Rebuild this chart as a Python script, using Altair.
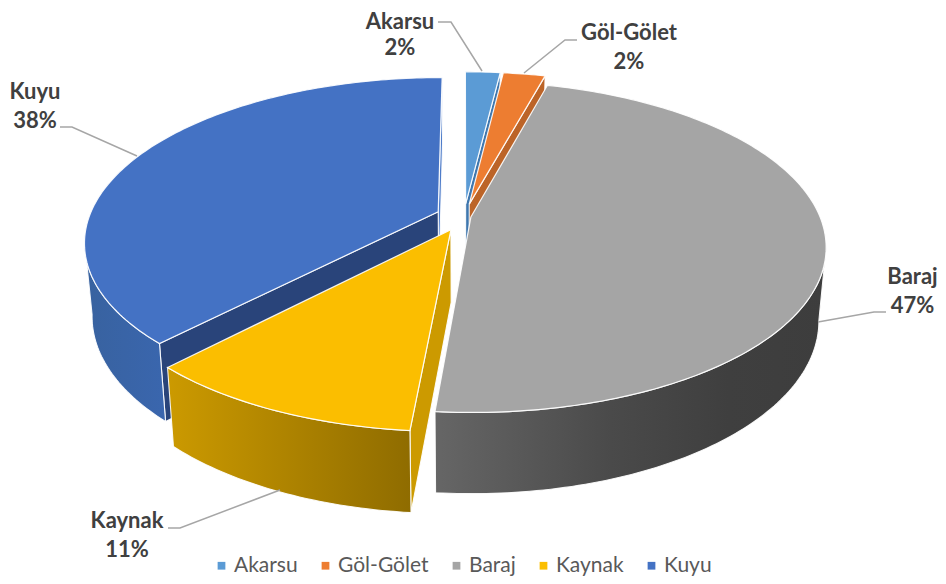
import math
import altair as alt

# ---- values ----
names = ["Akarsu", "Göl-Gölet", "Baraj", "Kaynak", "Kuyu"]
shares = [1.9, 2.3, 47.2, 10.7, 37.9]
top_colors = ["#5B9BD5", "#ED7D31", "#A5A5A5", "#FBBE00", "#4472C4"]
cut_colors = ["#3F77AE", "#BC6428", None, "#CC9A00", "#29447A"]
explode = [0.08, 0.08, 0.02, 0.09, 0.08]

label_x = [400, 629, 912.5, 127, 35]
name_y = [22, 33, 277, 521, 92]
share_y = [48, 62, 306, 550, 121]
leader_x = [[438, 451, 482], [577, 565, 524], [886, 874, 818], [168, 180, 280], [60, 72, 137]]
leader_y = [[22, 22, 71], [40, 40, 73], [312, 312, 322], [528, 528, 490], [127, 127, 156]]

# ---- 3-D view of the pie ----
CX, CY, R, K, P = 464.0, 216.5, 349.0, 160.0, 0.18
BX, BA, BB = 0.98, 288.5, 1.047
OX, OY = 8, 8  # page margin
W, H = 930, 568


def top(theta, r, i):
    mid = math.radians(mids[i])
    t = math.radians(theta)
    U = r * math.sin(t) + explode[i] * math.sin(mid)
    V = r * math.cos(t) + explode[i] * math.cos(mid)
    s = 1 / (1 + P * V)
    return [CX + R * U * s, CY - K * V * s]


def bottom(theta, r, i):
    x, y = top(theta, r, i)
    return [CX + BX * (x - CX), BA + BB * (y - CY)]


edges = [0.0]
for v in shares:
    edges.append(edges[-1] + v * 3.6)
mids = [(edges[i] + edges[i + 1]) / 2 for i in range(5)]


def arc(a, b, i, fn):
    n = max(2, int(abs(b - a)) + 1)
    return [fn(a + (b - a) * j / n, 1, i) for j in range(n + 1)]


def feature(points, name=""):
    ring = points + [points[0]]
    return {"type": "Feature", "properties": {"name": name},
            "geometry": {"type": "Polygon", "coordinates": [ring]}}


def cut(theta, i):
    return feature([top(theta, 0, i), top(theta, 1, i), bottom(theta, 1, i), bottom(theta, 0, i)])


def wall(a, b, i):
    return feature(arc(a, b, i, top) + arc(b, a, i, bottom))


def gradient(stops):
    return {"gradient": "linear", "x1": 0, "x2": 1, "y1": 0, "y2": 0,
            "stops": [{"offset": o, "color": c} for o, c in stops]}


def face(feat, fill):
    return alt.Chart(alt.Data(values=[feat])).mark_geoshape(
        fill=fill, stroke="white", strokeWidth=1.1, strokeOpacity=0.9
    ).project(type="identity", scale=1, translate=[-OX, -OY])


TURN_R = 100.4
TURN_L = 259.6
layers = [
    face(cut(edges[5], 4), "#4E7CC9"),
    face(cut(edges[4], 4), cut_colors[4]),
    face(wall(edges[4], TURN_L, 4), gradient([(0, "#38629F"), (1, "#3A66AE")])),
    face(cut(edges[1], 0), cut_colors[0]),
    face(cut(edges[2], 1), cut_colors[1]),
    face(wall(TURN_R, edges[3], 2), gradient([(0, "#666666"), (0.45, "#4A4A4A"), (0.75, "#3F3F3F"), (1, "#3D3D3D")])),
    face(cut(edges[3], 3), cut_colors[3]),
    face(wall(edges[3], edges[4], 3), gradient([(0, "#CC9A00"), (1, "#8F6C00")])),
]

# top faces, back to front, carrying the legend
order = [4, 0, 1, 2, 3]
tops = [feature([top(edges[i], 0, i)] + arc(edges[i], edges[i + 1], i, top), names[i]) for i in order]
tops_layer = alt.Chart(alt.Data(values=tops)).mark_geoshape(
    stroke="white", strokeWidth=1.2, strokeOpacity=0.9
).encode(
    color=alt.Color(
        "properties.name:N",
        scale=alt.Scale(domain=names, range=top_colors),
        legend=alt.Legend(
            title=None, orient="none", legendX=211 - OX, legendY=555 - OY,
            direction="horizontal", columns=5, symbolType="square", symbolSize=60,
            symbolStrokeWidth=0, labelFont="Lato", labelFontSize=21, labelColor="#595959",
            labelLimit=200, columnPadding=17, labelOffset=2,
        ),
    )
).project(type="identity", scale=1, translate=[-OX, -OY])
layers.append(tops_layer)

xs = alt.Scale(domain=[OX, OX + W], nice=False, zero=False)
ys = alt.Scale(domain=[OY + H, OY], nice=False, zero=False)

leader_rows = []
for i, nm in enumerate(names):
    for j in range(3):
        leader_rows.append({"name": nm, "step": j, "x": leader_x[i][j], "y": leader_y[i][j]})
leaders = alt.Chart(alt.Data(values=leader_rows)).mark_line(
    color="#A6A6A6", strokeWidth=1.5
).encode(
    x=alt.X("x:Q", scale=xs, axis=None),
    y=alt.Y("y:Q", scale=ys, axis=None),
    detail="name:N",
    order="step:Q",
)
layers.append(leaders)

label_rows = []
for i in range(5):
    label_rows.append({"text": names[i], "x": label_x[i], "y": name_y[i]})
    label_rows.append({"text": f"{round(shares[i])}%", "x": label_x[i], "y": share_y[i]})
labels = alt.Chart(alt.Data(values=label_rows)).mark_text(
    font="Lato", fontSize=22, fontWeight="bold", color="#404040",
    align="center", baseline="middle",
).encode(
    x=alt.X("x:Q", scale=xs, axis=None),
    y=alt.Y("y:Q", scale=ys, axis=None),
    text="text:N",
)
layers.append(labels)

chart = alt.layer(*layers).resolve_scale(color="independent").properties(
    width=W, height=H, padding=0, background="white",
    autosize=alt.AutoSizeParams(type="none"),
).configure_view(stroke=None)

chart.save("out.html", embed_options={"renderer": "svg", "actions": False})
